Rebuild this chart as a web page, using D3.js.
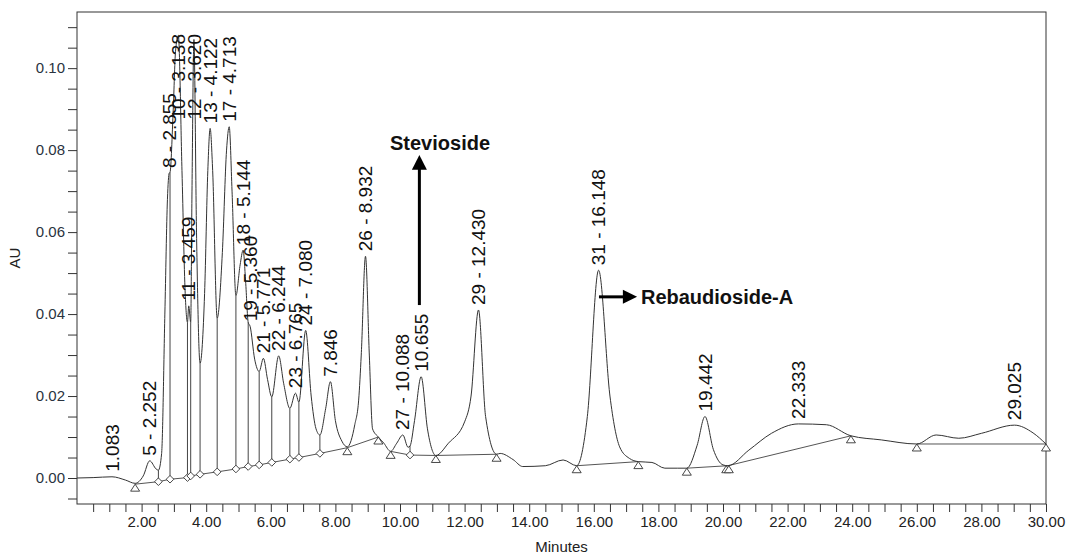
<!DOCTYPE html>
<html>
<head>
<meta charset="utf-8">
<script src="https://cdn.jsdelivr.net/npm/d3@7"></script>
<style>
  body { margin: 0; background: #fff; }
  svg { font-family: "Liberation Sans", Arial, sans-serif; }
</style>
</head>
<body>
<div id="chart"></div>
<script>
// chromatogram trace, [minutes, AU]
const trace = [
  [0.00, 0.0000], [0.50, 0.0001], [1.083, 0.0003], [1.50, -0.0005], [1.80, -0.0013],
  [2.05, 0.0005], [2.252, 0.0042], [2.45, 0.0022], [2.52, 0.0019], [2.62, 0.006],
  [2.72, 0.040], [2.80, 0.068], [2.855, 0.0744], [2.88, 0.0746], [2.98, 0.090],
  [3.05, 0.104], [3.138, 0.108], [3.25, 0.075], [3.35, 0.045], [3.42, 0.038],
  [3.459, 0.042], [3.52, 0.038], [3.56, 0.070], [3.620, 0.107], [3.70, 0.060],
  [3.81, 0.028], [3.95, 0.045], [4.05, 0.075], [4.122, 0.0853], [4.20, 0.075],
  [4.34, 0.039], [4.50, 0.055], [4.63, 0.080], [4.713, 0.0857], [4.80, 0.070],
  [4.92, 0.0445], [5.05, 0.052], [5.144, 0.0556], [5.22, 0.048], [5.30, 0.038],
  [5.36, 0.037], [5.50, 0.029], [5.64, 0.026], [5.771, 0.0292], [5.90, 0.024],
  [6.03, 0.0198], [6.244, 0.0298], [6.40, 0.023], [6.59, 0.017], [6.765, 0.0207],
  [6.87, 0.0185], [7.080, 0.0360], [7.25, 0.020], [7.40, 0.012], [7.52, 0.0105],
  [7.70, 0.017], [7.846, 0.0235], [8.00, 0.014], [8.20, 0.009], [8.37, 0.0076],
  [8.60, 0.013], [8.72, 0.019], [8.80, 0.030], [8.932, 0.0541], [9.05, 0.030],
  [9.15, 0.012], [9.33, 0.0100], [9.50, 0.0085], [9.71, 0.0065], [9.90, 0.0085],
  [10.088, 0.0105], [10.25, 0.0075], [10.31, 0.0078], [10.45, 0.014], [10.655, 0.0247],
  [10.85, 0.012], [11.11, 0.0055], [11.50, 0.0085], [12.00, 0.0137], [12.20, 0.020],
  [12.430, 0.0410], [12.65, 0.015], [12.99, 0.0058], [13.10, 0.0060], [13.50, 0.0045],
  [13.80, 0.0028], [14.50, 0.0030], [15.05, 0.0044], [15.47, 0.0030], [15.80, 0.015],
  [16.148, 0.0507], [16.50, 0.020], [16.80, 0.0076], [17.10, 0.0048], [17.38, 0.0040],
  [17.80, 0.0038], [18.20, 0.0024], [18.60, 0.0024], [18.88, 0.0024], [19.20, 0.008],
  [19.442, 0.0150], [19.70, 0.007], [20.00, 0.0032], [20.15, 0.0030], [20.80, 0.0068],
  [21.50, 0.0109], [22.333, 0.0132], [23.20, 0.0130], [23.96, 0.0103], [24.90, 0.0093],
  [26.00, 0.0083], [26.60, 0.0105], [27.30, 0.0097], [28.00, 0.0109], [29.025, 0.0129],
  [29.60, 0.0110], [30.00, 0.0083]
];

// integration baselines
const baselines = [
  [[1.80, -0.0015], [2.52, -0.0009], [2.88, -0.0003], [3.42, 0.0001], [3.52, 0.0005],
   [3.81, 0.0009], [4.34, 0.0015], [4.92, 0.0022], [5.30, 0.0028], [5.64, 0.0032],
   [6.03, 0.0038], [6.59, 0.0046], [6.87, 0.0050], [7.52, 0.0060], [8.37, 0.0074]],
  [[8.37, 0.0074], [9.33, 0.0100]],
  [[9.71, 0.0065], [10.31, 0.0056], [11.11, 0.0055]],
  [[11.11, 0.0055], [12.99, 0.0058]],
  [[15.47, 0.0030], [17.38, 0.0040]],
  [[18.88, 0.0024], [20.15, 0.0030]],
  [[20.15, 0.0030], [23.96, 0.0103]],
  [[26.00, 0.0083], [30.00, 0.0083]]
];

const triangleMarks = [
  [1.80, -0.0015], [8.37, 0.0074], [9.33, 0.0100], [9.71, 0.0065], [11.11, 0.0055],
  [12.99, 0.0058], [15.47, 0.0030], [17.38, 0.0040], [18.88, 0.0024], [20.10, 0.0030],
  [20.18, 0.0030], [23.96, 0.0103], [26.00, 0.0083], [30.00, 0.0083]
];

const diamondMarks = [
  [2.52, -0.0009], [2.88, -0.0003], [3.42, 0.0001], [3.52, 0.0005], [3.81, 0.0009],
  [4.34, 0.0015], [4.92, 0.0022], [5.30, 0.0028], [5.64, 0.0032], [6.03, 0.0038],
  [6.59, 0.0046], [6.87, 0.0050], [7.52, 0.0060], [10.31, 0.0056]
];

const peakLabels = [
  ["1.083", 1.083], ["5 - 2.252", 2.252], ["8 - 2.855", 2.855], ["10 - 3.138", 3.138],
  ["11 - 3.459", 3.459], ["12 - 3.620", 3.620], ["13 - 4.122", 4.122], ["17 - 4.713", 4.713],
  ["18 - 5.144", 5.144], ["19 - 5.360", 5.36], ["21 - 5.771", 5.771], ["22 - 6.244", 6.244],
  ["23 - 6.765", 6.765], ["24 - 7.080", 7.080], ["7.846", 7.846], ["26 - 8.932", 8.932],
  ["27 - 10.088", 10.088], ["10.655", 10.655], ["29 - 12.430", 12.430], ["31 - 16.148", 16.148],
  ["19.442", 19.442], ["22.333", 22.333], ["29.025", 29.025]
];

const xTickLabels = [2, 4, 6, 8, 10, 12, 14, 16, 18, 20, 22, 24, 26, 28, 30];
const yTickLabels = [0.00, 0.02, 0.04, 0.06, 0.08, 0.10];

const width = 1071, height = 554;
const margin = {top: 12, right: 25, bottom: 50, left: 77};

const svg = d3.select('#chart').append('svg')
  .attr('width', width)
  .attr('height', height);

const x = d3.scaleLinear().domain([0, 30]).range([margin.left, width - margin.right]);
const y = d3.scaleLinear().domain([-0.00634, 0.1137]).range([height - margin.bottom, margin.top]);

const isLabelled = (list, d) => list.some(v => Math.abs(v - d) < 1e-9);

// x axis
const xAxis = d3.axisBottom(x)
  .tickValues(d3.range(0.5, 30.001, 0.5))
  .tickSize(8)
  .tickPadding(4)
  .tickFormat(d => isLabelled(xTickLabels, d) ? d3.format('.2f')(d) : '');

svg.append('g')
  .attr('class', 'x axis')
  .attr('transform', `translate(0,${height - margin.bottom})`)
  .call(xAxis)
  .call(g => g.select('.domain').remove())
  .call(g => g.selectAll('line').attr('stroke', '#333'))
  .call(g => g.selectAll('text').attr('font-size', 15).attr('fill', '#222'));

// y axis
const yAxis = d3.axisLeft(y)
  .tickValues(d3.range(-0.005, 0.1101, 0.005))
  .tickSize(9)
  .tickPadding(3)
  .tickFormat(d => isLabelled(yTickLabels, d) ? d3.format('.2f')(d) : '');

svg.append('g')
  .attr('class', 'y axis')
  .attr('transform', `translate(${margin.left},0)`)
  .call(yAxis)
  .call(g => g.select('.domain').remove())
  .call(g => g.selectAll('line').attr('stroke', '#333'))
  .call(g => g.selectAll('text').attr('font-size', 15).attr('fill', '#2a3340'));

// frame
svg.append('rect')
  .attr('x', margin.left)
  .attr('y', margin.top)
  .attr('width', width - margin.left - margin.right)
  .attr('height', height - margin.top - margin.bottom)
  .attr('fill', 'none')
  .attr('stroke', '#333')
  .attr('stroke-width', 1);

// axis titles
svg.append('text')
  .attr('x', (x(0) + x(30)) / 2)
  .attr('y', 552)
  .attr('text-anchor', 'middle')
  .attr('font-size', 15)
  .attr('fill', '#222')
  .text('Minutes');

svg.append('text')
  .attr('transform', `translate(20,${(margin.top + height - margin.bottom) / 2}) rotate(-90)`)
  .attr('text-anchor', 'middle')
  .attr('font-size', 15)
  .attr('fill', '#222')
  .text('AU');

const line = d3.line()
  .x(d => x(d[0]))
  .y(d => y(d[1]));

// baselines
svg.append('g').selectAll('path')
  .data(baselines)
  .enter().append('path')
  .attr('d', line)
  .attr('fill', 'none')
  .attr('stroke', '#555')
  .attr('stroke-width', 1);

// drop lines from diamonds up to the trace
const traceAt = t => {
  const p = trace.find(d => Math.abs(d[0] - t) < 1e-6);
  return p ? p[1] : null;
};

svg.append('g').selectAll('line')
  .data(diamondMarks.filter(d => traceAt(d[0]) !== null))
  .enter().append('line')
  .attr('x1', d => x(d[0]))
  .attr('x2', d => x(d[0]))
  .attr('y1', d => y(d[1]))
  .attr('y2', d => y(traceAt(d[0])))
  .attr('stroke', '#444')
  .attr('stroke-width', 1);

// the trace
svg.append('path')
  .attr('class', 'line trace')
  .attr('d', line.curve(d3.curveMonotoneX)(trace))
  .attr('fill', 'none')
  .attr('stroke', '#333')
  .attr('stroke-width', 1);

// markers
svg.append('g').selectAll('path')
  .data(triangleMarks)
  .enter().append('path')
  .attr('transform', d => `translate(${x(d[0])},${y(d[1])})`)
  .attr('d', 'M0,0 L4.5,7 L-4.5,7 Z')
  .attr('fill', '#fff')
  .attr('stroke', '#333')
  .attr('stroke-width', 0.9);

svg.append('g').selectAll('path')
  .data(diamondMarks)
  .enter().append('path')
  .attr('transform', d => `translate(${x(d[0])},${y(d[1])})`)
  .attr('d', 'M0,-3.8 L3.8,0 L0,3.8 L-3.8,0 Z')
  .attr('fill', '#fff')
  .attr('stroke', '#333')
  .attr('stroke-width', 0.9);

// peak labels, pushed down when they would run off the top
const labelG = svg.append('g');
peakLabels.forEach(([txt, t]) => {
  const apex = traceAt(t);
  const label = labelG.append('text')
    .attr('font-size', 19)
    .attr('fill', '#111')
    .attr('dy', '0.35em')
    .text(txt);
  const len = label.node().getComputedTextLength();
  const base = Math.max(y(apex) - 5, margin.top + 22 + len);
  label.attr('transform', `translate(${x(t)},${base}) rotate(-90)`);
});

// annotations
const arrowX = x(10.6);
svg.append('line')
  .attr('x1', arrowX).attr('x2', arrowX)
  .attr('y1', y(0.0422)).attr('y2', y(0.0755))
  .attr('stroke', '#000')
  .attr('stroke-width', 3);
svg.append('path')
  .attr('d', `M${arrowX},${y(0.0788)} L${arrowX + 7.5},${y(0.0752)} L${arrowX - 7.5},${y(0.0752)} Z`)
  .attr('fill', '#000');
svg.append('text')
  .attr('x', x(9.69))
  .attr('y', y(0.0800))
  .attr('font-size', 20)
  .attr('font-weight', 'bold')
  .attr('fill', '#111')
  .text('Stevioside');

const arrowY = y(0.0442);
svg.append('line')
  .attr('x1', x(16.16)).attr('x2', x(16.95))
  .attr('y1', arrowY).attr('y2', arrowY)
  .attr('stroke', '#000')
  .attr('stroke-width', 3);
svg.append('path')
  .attr('d', `M${x(17.34)},${arrowY} L${x(16.9)},${arrowY - 7} L${x(16.9)},${arrowY + 7} Z`)
  .attr('fill', '#000');
svg.append('text')
  .attr('x', x(17.46))
  .attr('y', y(0.0425))
  .attr('font-size', 20)
  .attr('font-weight', 'bold')
  .attr('fill', '#111')
  .text('Rebaudioside-A');
</script>
</body>
</html>
